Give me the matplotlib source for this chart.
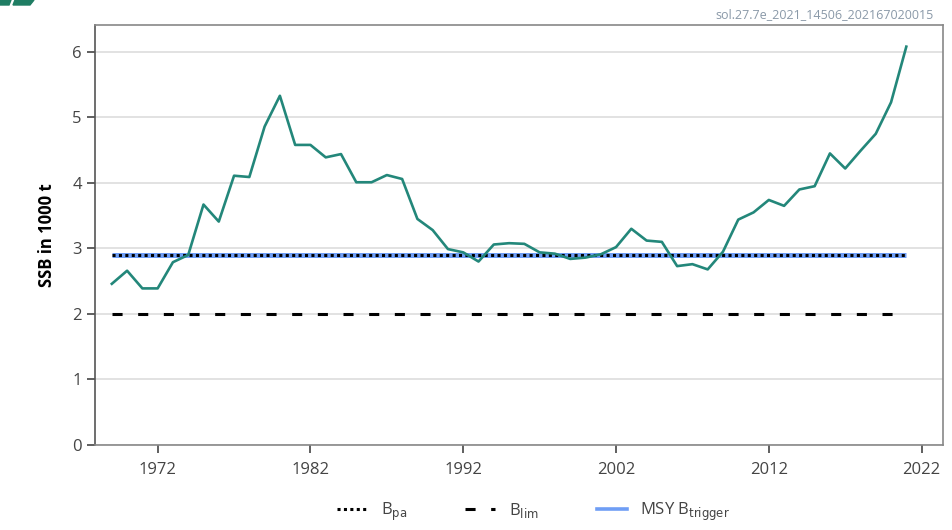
import matplotlib.pyplot as plt
from matplotlib.lines import Line2D
from matplotlib.patches import Polygon

plt.rcParams['font.family'] = ['Open Sans', 'DejaVu Sans']

# SSB series (1000 t)
years = list(range(1969, 2022))
ssb = [2.46, 2.66, 2.39, 2.39, 2.79, 2.90, 3.67, 3.41, 4.11, 4.09,
       4.86, 5.33, 4.58, 4.58, 4.39, 4.44, 4.01, 4.01, 4.12, 4.06,
       3.45, 3.28, 2.99, 2.94, 2.80, 3.06, 3.08, 3.07, 2.94, 2.92,
       2.84, 2.86, 2.91, 3.02, 3.30, 3.12, 3.10, 2.73, 2.76, 2.68,
       2.95, 3.44, 3.55, 3.74, 3.65, 3.90, 3.95, 4.45, 4.22, 4.49,
       4.75, 5.23, 6.08]
bpa = 2.9
blim = 2.0
msy_btrigger = 2.9

xticks = [1972, 1982, 1992, 2002, 2012, 2022]
yticks = [0, 1, 2, 3, 4, 5, 6]

dotted = (0, (1, 1.1))
dashed = (0, (3.3, 5.1))

fig = plt.figure(figsize=(9.53, 5.3), dpi=100)
ax = fig.add_axes([0.0997, 0.1604, 0.8898, 0.7924])

n = len(years)
ax.plot(years, [msy_btrigger] * n, color='#6f9ef5', lw=3.6, solid_capstyle='butt', zorder=2)
ax.plot(years, [bpa] * n, color='black', lw=2.2, ls=dotted, zorder=3)
ax.plot(years, [blim] * n, color='black', lw=2.2, ls=dashed, zorder=3)
ax.plot(years, ssb, color='#23877A', lw=1.9, zorder=4)

ax.set_xlim(1967.9, 2023.4)
ax.set_ylim(0, 6.41)
ax.set_xticks(xticks)
ax.set_yticks(yticks)
ax.yaxis.grid(True, color='#dddddd', lw=1.2)
ax.set_axisbelow(True)
ax.tick_params(axis='both', labelsize=12, colors='#444444', length=6, width=1.2)
ax.tick_params(axis='x', pad=6)
for s in ax.spines.values():
    s.set_color('#888888')
    s.set_linewidth(1.2)
ax.spines['left'].set_color('#555555')

ax.set_ylabel('SSB in 1000 t', fontsize=12, fontweight='bold', labelpad=12)

fig.text(0.98, 0.965, 'sol.27.7e_2021_14506_202167020015', ha='right',
         fontsize=9, color='#8a99a8')

# bit of the logo cut off at top left
logo_green = '#1f7d63'
fig.patches.append(Polygon([(0, 1), (11 / 953, 1), (9 / 953, 1 - 5 / 530), (0, 1 - 5 / 530)],
                           closed=True, transform=fig.transFigure, color=logo_green))
fig.patches.append(Polygon([(15 / 953, 1), (34 / 953, 1), (30 / 953, 1 - 5 / 530), (13 / 953, 1 - 5 / 530)],
                           closed=True, transform=fig.transFigure, color=logo_green))

# legend
handles = [
    Line2D([], [], color='black', lw=2.2, ls=dotted),
    Line2D([], [], color='black', lw=2.2, ls=dashed),
    Line2D([], [], color='#6f9ef5', lw=2.6),
]
labels = [r'B$_{\mathrm{pa}}$', r'B$_{\mathrm{lim}}$', r'MSY B$_{\mathrm{trigger}}$']
fig.legend(handles, labels, loc='lower center', ncol=3, frameon=False,
           bbox_to_anchor=(0.56, -0.015), fontsize=12, handlelength=1.8,
           columnspacing=3.5, labelcolor='#444444')

fig.savefig('out.png', dpi=100)
